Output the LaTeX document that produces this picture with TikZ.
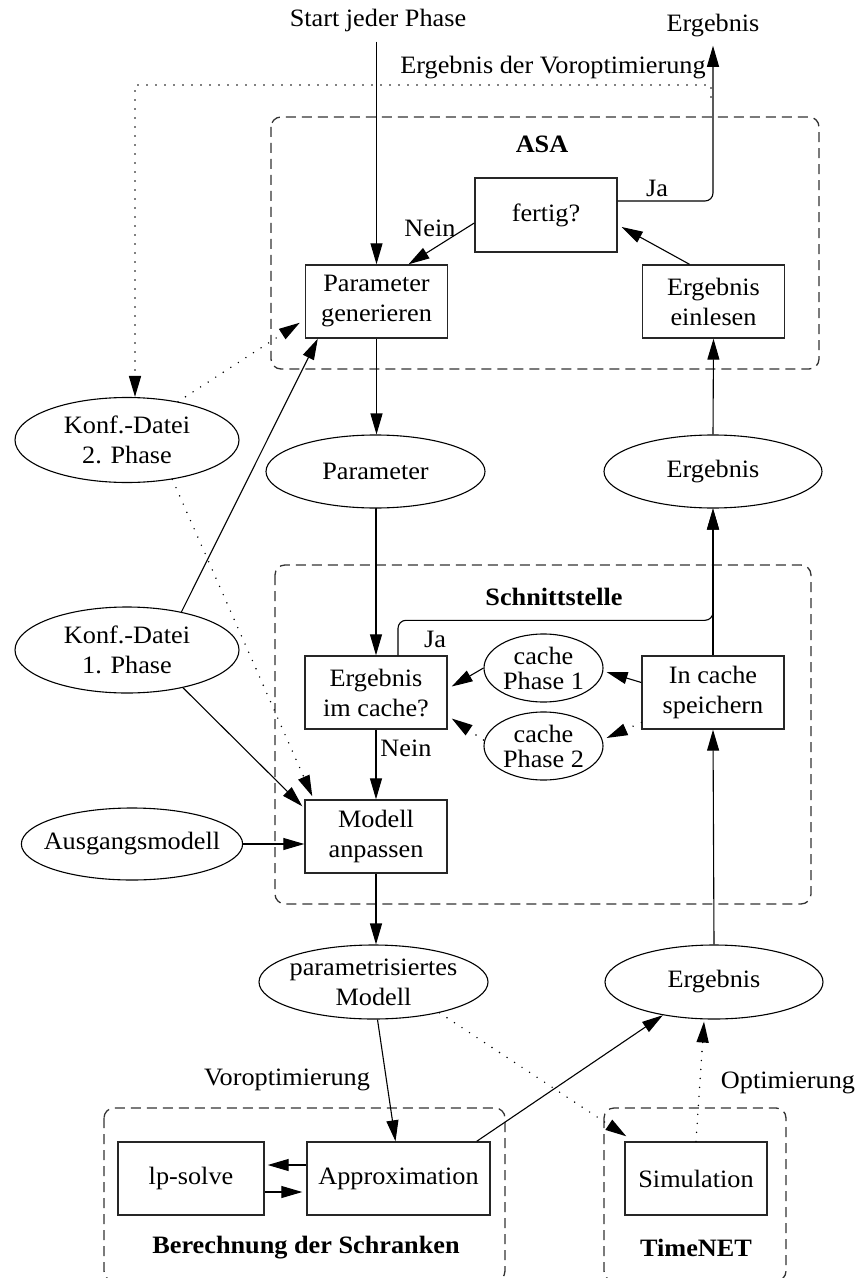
\documentclass[tikz,border=0pt]{standalone}
\usepackage{fontspec}
\setmainfont{Liberation Serif}[FakeStretch=1.05]
\usetikzlibrary{arrows.meta,shapes.geometric,calc}
\begin{document}
\begin{tikzpicture}[x=0.5pt,y=-0.5pt,
  every node/.style={font=\fontsize{12.5}{15}\selectfont},
  box/.style={draw=black!85, line width=0.7pt, rectangle, minimum width=71pt, minimum height=36.5pt, inner sep=0pt, align=center},
  oval/.style={draw, ellipse, inner sep=0pt, align=center, line width=0.55pt},
  group/.style={draw=black!80, dash pattern=on 5pt off 3pt, rounded corners=5pt, line width=0.65pt},
  arr/.style={-{Triangle[length=10.5pt,width=6pt]}, line width=0.55pt},
  dotarr/.style={arr, line cap=round, dash pattern=on 0pt off 4.5pt, line width=0.8pt},
  lab/.style={inner sep=0pt, align=center},
  title/.style={inner sep=0pt, font=\fontsize{12.5}{15}\selectfont\bfseries}]
\useasboundingbox (0,0) rectangle (858,1278);

% groups
\draw[group] (271,117) rectangle (819,369);
\draw[group] (275,565) rectangle (811,904);
\draw[group] (104,1108) rectangle (505,1281);
\draw[group] (604,1108) rectangle (786,1281);

% labels
\node[lab] (start) at (378,20) {Start jeder Phase};
\node[lab] (ergtop) at (713,26) {Ergebnis};
\node[lab] (vorlab) at (553,68) {Ergebnis der Voroptimierung};
\node[title] (asa) at (542,144) {ASA};
\node[title] (schn) at (554,597) {Schnittstelle};
\node[title] (bds) at (306,1248) {Berechnung der Schranken};
\node[title] (tnet) at (696,1248) {TimeNET};
\node[lab] (vlab) at (287,1080) {Voroptimierung};
\node[lab] (olab) at (788,1083) {Optimierung};
\node[lab] (ja1) at (657,188) {Ja};
\node[lab] (nein1) at (430,228) {Nein};
\node[lab] (ja2) at (435,639) {Ja};
\node[lab] (nein2) at (406,748) {Nein};

% boxes
\node[box, minimum height=37pt] (fertig) at (546,215) {fertig?};
\node[box] (pg) at (376.5,301.5) {Parameter\\generieren};
\node[box] (ee) at (713.5,301.5) {Ergebnis\\einlesen};
\node[box] (eic) at (376,692.5) {Ergebnis\\im cache?};
\node[box] (ics) at (713,692.5) {In cache\\speichern};
\node[box] (ma) at (376,836.5) {Modell\\anpassen};
\node[box, minimum width=73pt] (lp) at (191,1178.5) {lp-solve};
\node[box, minimum width=91.5pt] (approx) at (398.5,1178.5) {Approximation};
\node[box] (sim) at (696,1178.5) {Simulation};

% ellipses
\node[oval, minimum width=112pt, minimum height=42.5pt] (konf2) at (127,440) {Konf.-Datei\\2. Phase};
\node[oval, minimum width=112pt, minimum height=43pt] (konf1) at (127,650) {Konf.-Datei\\1. Phase};
\node[oval, minimum width=109.5pt, minimum height=36.5pt] (param) at (375.5,471.5) {Parameter};
\node[oval, minimum width=109pt, minimum height=36.5pt] (ergA) at (713,471.5) {Ergebnis};
\node[oval, minimum width=59.5pt, minimum height=34pt, font=\fontsize{12.5}{12.5}\selectfont] (c1) at (543.5,668) {cache\\Phase 1};
\node[oval, minimum width=59.5pt, minimum height=34pt, font=\fontsize{12.5}{12.5}\selectfont] (c2) at (543.5,746) {cache\\Phase 2};
\node[oval, minimum width=109.5pt, minimum height=36pt, inner xsep=-5pt] (aus) at (132,844) {Ausgangsmodell};
\node[oval, minimum width=114.5pt, minimum height=37pt, inner xsep=-5pt] (pm) at (373.5,982) {parametrisiertes\\Modell};
\node[oval, minimum width=109pt, minimum height=37pt] (ergB) at (714,982) {Ergebnis};

\coordinate (vo) at (711,97);

% connectors
\draw[arr] ([yshift=-5pt]start.south -| pg.north) -- (pg.north);
\draw[arr, rounded corners=4pt] ([yshift=7pt]fertig.east) -| ([yshift=-4pt]ergtop.south);
\draw[dotarr] (vo) -- ++(0,-12) -| ($(konf2.north)+(8,0)$);
\draw[arr] ([yshift=-4pt]fertig.west) -- ($(pg.north)+(32,0)$);
\draw[arr] ($(ee.north)+(-24,0)$) -- ($(fertig.east)+(4,12)$);
\draw[arr] (ergA.north) -- (ee.south);
\draw[dotarr] (konf2.37) -- ($(pg.south west)+(-5,-16)$);
\draw[dotarr] (konf2.-41) -- ($(ma.north west)+(8,-3)$);
\draw[arr] (konf1.35) -- ($(pg.south west)+(13,0)$);
\draw[arr] (konf1.-34) -- ($(ma.north west)+(-2,7)$);
\draw[arr] (aus.east) -- (aus.east -| ma.west);
\draw[arr] (pg.south) -- (pg.south |- param.north);
\draw[arr] (param.south) -- (param.south -| eic.north) -- (eic.north);
\draw[arr] (eic.south) -- (ma.north);
\draw[arr, rounded corners=4pt] ($(eic.north)+(22,0)$) -- ++(0,-35) -| (ergA.south);
\draw[arr] (ics.north) -- (ergA.south);
\draw[arr] ($(ics.west)+(0,-10)$) -- ($(c1.east)+(3,4)$);
\draw[arr] (c1.west) -- ($(eic.east)+(4,-6)$);
\draw[dotarr] ($(ics.west)+(0,30)$) -- ($(c2.east)+(3,-8)$);
\draw[dotarr] ($(c2.west)+(0,-6)$) -- ($(eic.east)+(4,26)$);
\draw[arr] (ergB.north) -- (ics.south);
\draw[arr] (ma.south) -- (ma.south |- pm.north);
\draw[arr] ($(pm.south)+(4,0)$) -- ($(approx.north)+(-3,0)$);
\draw[arr] ($(approx.north east)+(-14,0)$) -- (ergB.213);
\draw[dotarr] (pm.-25) -- ($(sim.north west)+(2,-5)$);
\draw[dotarr] (sim.north) -- ($(ergB.south)+(-10,2)$);
\draw[arr] ($(approx.west)+(0,-13.5)$) -- ($(lp.east)+(3,-13.5)$);
\draw[arr] ($(lp.east)+(0,13.5)$) -- ($(approx.west)+(-4,13.5)$);
\end{tikzpicture}
\end{document}
